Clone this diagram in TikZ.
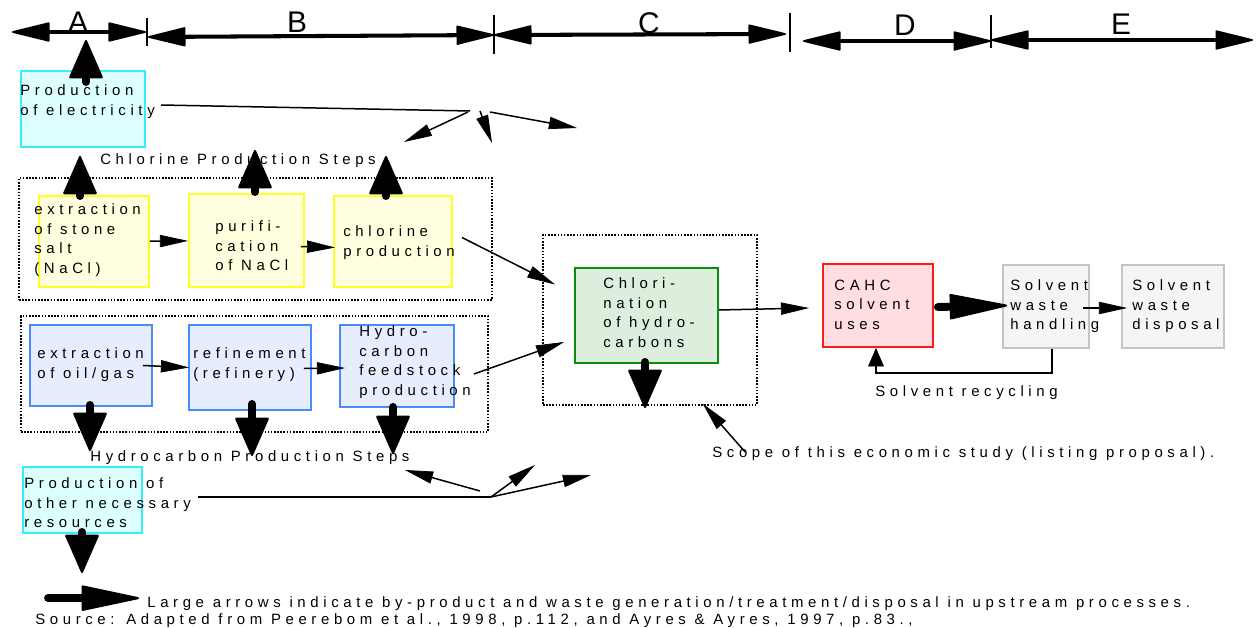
\documentclass[tikz,border=0pt]{standalone}
\usepackage{fontspec}
\setmainfont{Liberation Sans}
\newfontfamily\spacedfont[LetterSpace=31]{Liberation Sans}
\usetikzlibrary{arrows.meta,fit,calc}

\definecolor{cyanF}{HTML}{DDFFFF}
\definecolor{cyanD}{HTML}{33EEFF}
\definecolor{yelF}{HTML}{FFFFE0}
\definecolor{yelD}{HTML}{FFFF22}
\definecolor{bluF}{HTML}{E6EDFC}
\definecolor{bluD}{HTML}{4A8CF7}
\definecolor{grnF}{HTML}{DDEEDD}
\definecolor{grnD}{HTML}{0C8C0C}
\definecolor{redF}{HTML}{FFDDE0}
\definecolor{redD}{HTML}{FF1A1A}
\definecolor{gryF}{HTML}{F5F5F5}
\definecolor{gryD}{HTML}{C4C4C4}

\begin{document}
\begin{tikzpicture}[x=0.02cm,y=-0.02cm,
  txt/.style={font=\spacedfont\fontsize{8.5}{11.2}\selectfont, inner sep=0pt, align=left, anchor=north west},
  lbl/.style={font=\spacedfont\fontsize{8.5}{11.2}\selectfont, inner sep=0pt, anchor=base west},
  zone/.style={font=\fontsize{17}{20}\selectfont, inner sep=0pt},
  box/.style={inner sep=0pt, line width=1.1pt},
  cyanbox/.style={box, draw=cyanD, fill=cyanF},
  yelbox/.style={box, draw=yelD, fill=yelF},
  blubox/.style={box, draw=bluD, fill=bluF},
  grnbox/.style={box, draw=grnD, fill=grnF},
  redbox/.style={box, draw=redD, fill=redF},
  grybox/.style={box, draw=gryD, fill=gryF},
  dotbox/.style={draw, inner sep=0pt, line width=0.9pt, dash pattern=on 0.9pt off 0.9pt},
  plain/.style={line width=0.85pt},
  flow/.style={line width=0.85pt, -{Triangle[length=16pt,width=7pt,line width=0.4pt]}},
  recyc/.style={line width=1.1pt, -{Triangle[length=10.5pt,width=9pt,line width=0.4pt]}},
  bar/.style={line width=2.3pt, {Triangle[length=23pt,width=11pt,line width=1pt,round]}-{Triangle[length=23pt,width=11pt,line width=1pt,round]}},
  tick/.style={line width=0.85pt},
  bigv/.style={line width=4.5pt, line cap=round, -{Triangle[length=22.7pt,width=19.5pt,line width=1.2pt,round]}},
  bigh/.style={line width=4.5pt, line cap=round, -{Triangle[length=35pt,width=14.5pt,line width=1.2pt,round]}},
]
\useasboundingbox (0,0) rectangle (1257,628);

% ---- life-cycle zones along the top
\coordinate (tA0) at (12,32);   \coordinate (tA1) at (146,32);
\coordinate (tB0) at (148,37);  \coordinate (tB1) at (494,35);
\coordinate (tC0) at (494,35);  \coordinate (tC1) at (786,34);
\coordinate (tD0) at (803,41);  \coordinate (tD1) at (991,41);
\coordinate (tE0) at (991,40);  \coordinate (tE1) at (1253,40);
\draw[bar] (tA0) -- (tA1);
\draw[bar] (tB0) -- (tB1);
\draw[bar] (tC0) -- (tC1);
\draw[bar] (tD0) -- (tD1);
\draw[bar] (tE0) -- (tE1);
\draw[tick] (147,18) -- (147,46);
\draw[tick] (494,15) -- (494,54);
\draw[tick] (790,13) -- (790,52);
\draw[tick] (991,15) -- (991,48);
\node[zone] (zA) at (78,22) {A};
\node[zone] (zB) at (297,22) {B};
\node[zone] (zC) at (649,23) {C};
\node[zone] (zD) at (905,25) {D};
\node[zone] (zE) at (1121,24) {E};

% ---- group frames
\node[dotbox, fit={(19,178)(492,300)}] (clgroup) {};
\node[dotbox, fit={(21,316)(488,432)}] (hcgroup) {};
\node[dotbox, fit={(543,235)(757,405)}] (scope) {};

% ---- process boxes
\node[cyanbox, fit={(21,71)(145,147)}] (elec) {};
\node[yelbox, fit={(39,196)(149,287)}] (salt) {};
\node[yelbox, fit={(189,194)(304,287)}] (purif) {};
\node[yelbox, fit={(334,196)(452,287)}] (chlor) {};
\node[blubox, fit={(30,325)(152,406)}] (oil) {};
\node[blubox, fit={(189,325)(311,410)}] (refin) {};
\node[blubox, fit={(340,325)(454,407)}] (hydro) {};
\node[grnbox, fit={(575,268)(718,363)}] (chlorin) {};
\node[redbox, fit={(823,264)(933,347)}] (cahc) {};
\node[grybox, fit={(1003,265)(1089,348)}] (handle) {};
\node[grybox, fit={(1122,265)(1224,348)}] (dispose) {};
\node[cyanbox, fit={(23,467)(142,533)}] (other) {};

% ---- box texts
\node[txt] (elecT) at (20,84.4) {Production\\of electricity};
\node[txt] (saltT) at (34,203.4) {extraction\\of stone\\salt\\(NaCl)};
\node[txt] (purifT) at (215,220.4) {purifi-\\cation\\of NaCl};
\node[txt] (chlorT) at (343,225.4) {chlorine\\production};
\node[txt] (oilT) at (37,347.4) {extraction\\of oil/gas};
\node[txt] (refinT) at (193,347.4) {refinement\\(refinery)};
\node[txt] (hydroT) at (359,325.4) {Hydro-\\carbon\\feedstock\\production};
\node[txt] (chlorinT) at (603,277.4) {Chlori-\\nation\\of hydro-\\carbons};
\node[txt] (cahcT) at (834,279.4) {CAHC\\solvent\\uses};
\node[txt] (handleT) at (1010,279.4) {Solvent\\waste\\handling};
\node[txt] (disposeT) at (1132,279.4) {Solvent\\waste\\disposal};
\node[txt] (otherT) at (24,477.4) {Production of\\other necessary\\resources};

% ---- captions
\node[lbl] (clT) at (100,165) {Chlorine Production Steps};
\node[lbl] (hcT) at (90,461) {Hydrocarbon Production Steps};
\node[lbl] (recT) at (875,396) {Solvent recycling};
\node[lbl] (scopeT) at (712,457) {Scope of this economic study (listing proposal).};
\node[lbl] (legT) at (147,607) {Large arrows indicate by-product and waste generation/treatment/disposal in upstream processes.};
\node[lbl] (srcT) at (35,624) {Source: Adapted from Peerebom et al., 1998, p.112, and Ayres \& Ayres, 1997, p.83.,};

% ---- material flows
\draw[flow] (salt) -- (purif);
\draw[flow] ($(purif.east)+(-4,6)$) -- ($(chlor.west)+(2,6)$);
\draw[flow] ($(chlor.east)+(9,-4)$) -- ($(chlorin.west)+(-19,-31)$);
\draw[flow] ($(oil.east)+(-10,0)$) -- ($(refin.west)+(1,0)$);
\draw[flow] ($(refin.east)+(-8,1)$) -- ($(hydro.west)+(6,2)$);
\draw[flow] ($(hydro.east)+(19,8)$) -- ($(chlorin.west)+(-10,26.5)$);
\draw[flow] ($(chlorin.east)+(0,-5.5)$) -- ($(cahc.west)+(-13,2.5)$);
\draw[flow] ($(handle.east)+(-7,1.5)$) -- ($(dispose.west)+(6,1.5)$);
\draw[recyc] ($(handle.south)+(6,0)$) -- ++(0,24) -| ($(cahc.south)+(-2,0)$);
\draw[flow] ($(scopeT.north west)+(33,6)$) -- ($(scope.south east)+(-55,-2)$);

% ---- supply of electricity and other resources
\coordinate (efan) at (470,111);
\coordinate (e1) at (404,142);
\coordinate (e2) at (492,143);
\coordinate (e3) at (577,128);
\draw[plain] ($(elec.east)+(15,-4)$) -- (efan);
\draw[flow] (468,112) -- (e1);
\draw[flow] (480,111) -- (e2);
\draw[flow] (490,112) -- (e3);

\coordinate (ofan) at (491,497);
\coordinate (o1) at (405,470);
\coordinate (o2) at (535,465);
\coordinate (o3) at (591,475);
\draw[plain] ($(other.east)+(55,-3)$) -- (ofan);
\draw[flow] (480,491) -- (o1);
\draw[flow] (ofan) -- (o2);
\draw[flow] (ofan) -- (o3);

% ---- by-product and waste arrows
\draw[bigv] ($(elec.north)+(3,12)$) -- (86,40);
\draw[bigv] ($(salt.north)+(-14,1)$) -- (80,156);
\draw[bigv] ($(purif.north)+(8.5,-1)$) -- (255,150);
\draw[bigv] ($(chlor.north)+(-7,1)$) -- (386,156);
\draw[bigv] ($(oil.south)+(-1,-2)$) -- (90,451);
\draw[bigv] ($(refin.south)+(2,-7)$) -- (252,456);
\draw[bigv] ($(hydro.south)+(-4,-1)$) -- (393,454);
\draw[bigv] ($(chlorin.south)+(-1.5,-2)$) -- (645,408);
\draw[bigv] ($(other.south)+(-0.5,-2)$) -- (82,573);
\draw[bigh] ($(cahc.east)+(4,1.5)$) -- ($(handle.west)+(5,-1)$);
\draw[bigh] ($(legT.west)+(-99,-5)$) -- ($(legT.west)+(-8,-5)$);
\end{tikzpicture}
\end{document}
